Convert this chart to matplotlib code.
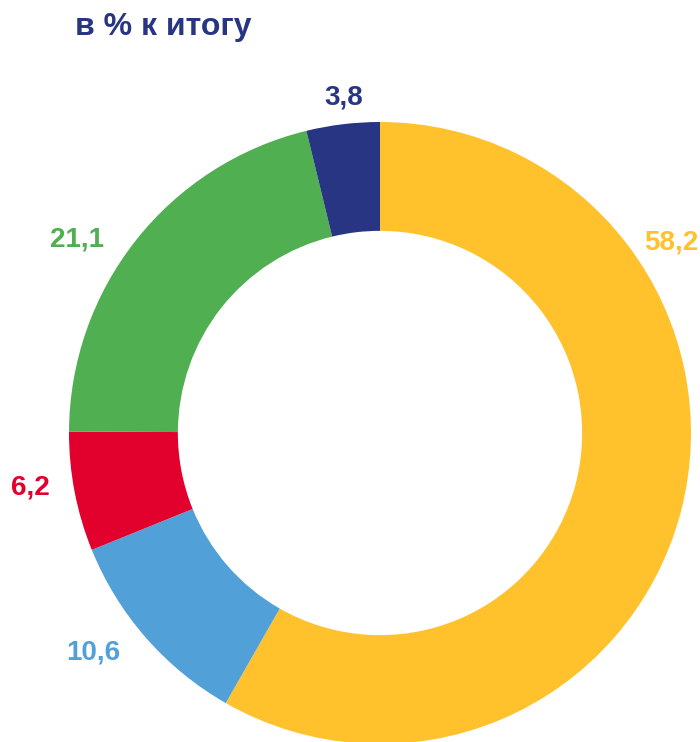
import matplotlib
matplotlib.use("Agg")
import matplotlib.pyplot as plt

# Data (clockwise from top)
labels = ["58,2", "10,6", "6,2", "21,1", "3,8"]
values = [58.2, 10.6, 6.2, 21.1, 3.8]
colors = ["#FFC22D", "#52A0D8", "#E2002D", "#50AF50", "#283583"]
title = "в % к итогу"

# label positions (data coords, pie radius = 1)
label_pos = [(0.936, 0.614), (-0.923, -0.707), (-1.125, -0.174), (-0.974, 0.621), (-0.116, 1.080)]

W, H = 700, 742
fig = plt.figure(figsize=(W / 100, H / 100), dpi=100)
ax = fig.add_axes([0, 0, 1, 1])
ax.pie(values, colors=colors, startangle=90, counterclock=False,
       radius=1.0, wedgeprops=dict(width=0.35, linewidth=0))
ax.set_aspect("auto")
cx, cy, r = 380, 433, 311
ax.set_xlim(-cx / r, (W - cx) / r)
ax.set_ylim(-(H - cy) / r, cy / r)
ax.axis("off")

for lab, (x, y), c in zip(labels, label_pos, colors):
    ax.text(x, y, lab, color=c, fontsize=20, fontweight="bold",
            family="Liberation Sans", ha="center", va="center")

fig.text(75 / W, 1 - 35 / H, title, color="#283583", fontsize=23,
         fontweight="bold", family="Liberation Sans", ha="left", va="baseline")

fig.savefig("out.png", dpi=100)
